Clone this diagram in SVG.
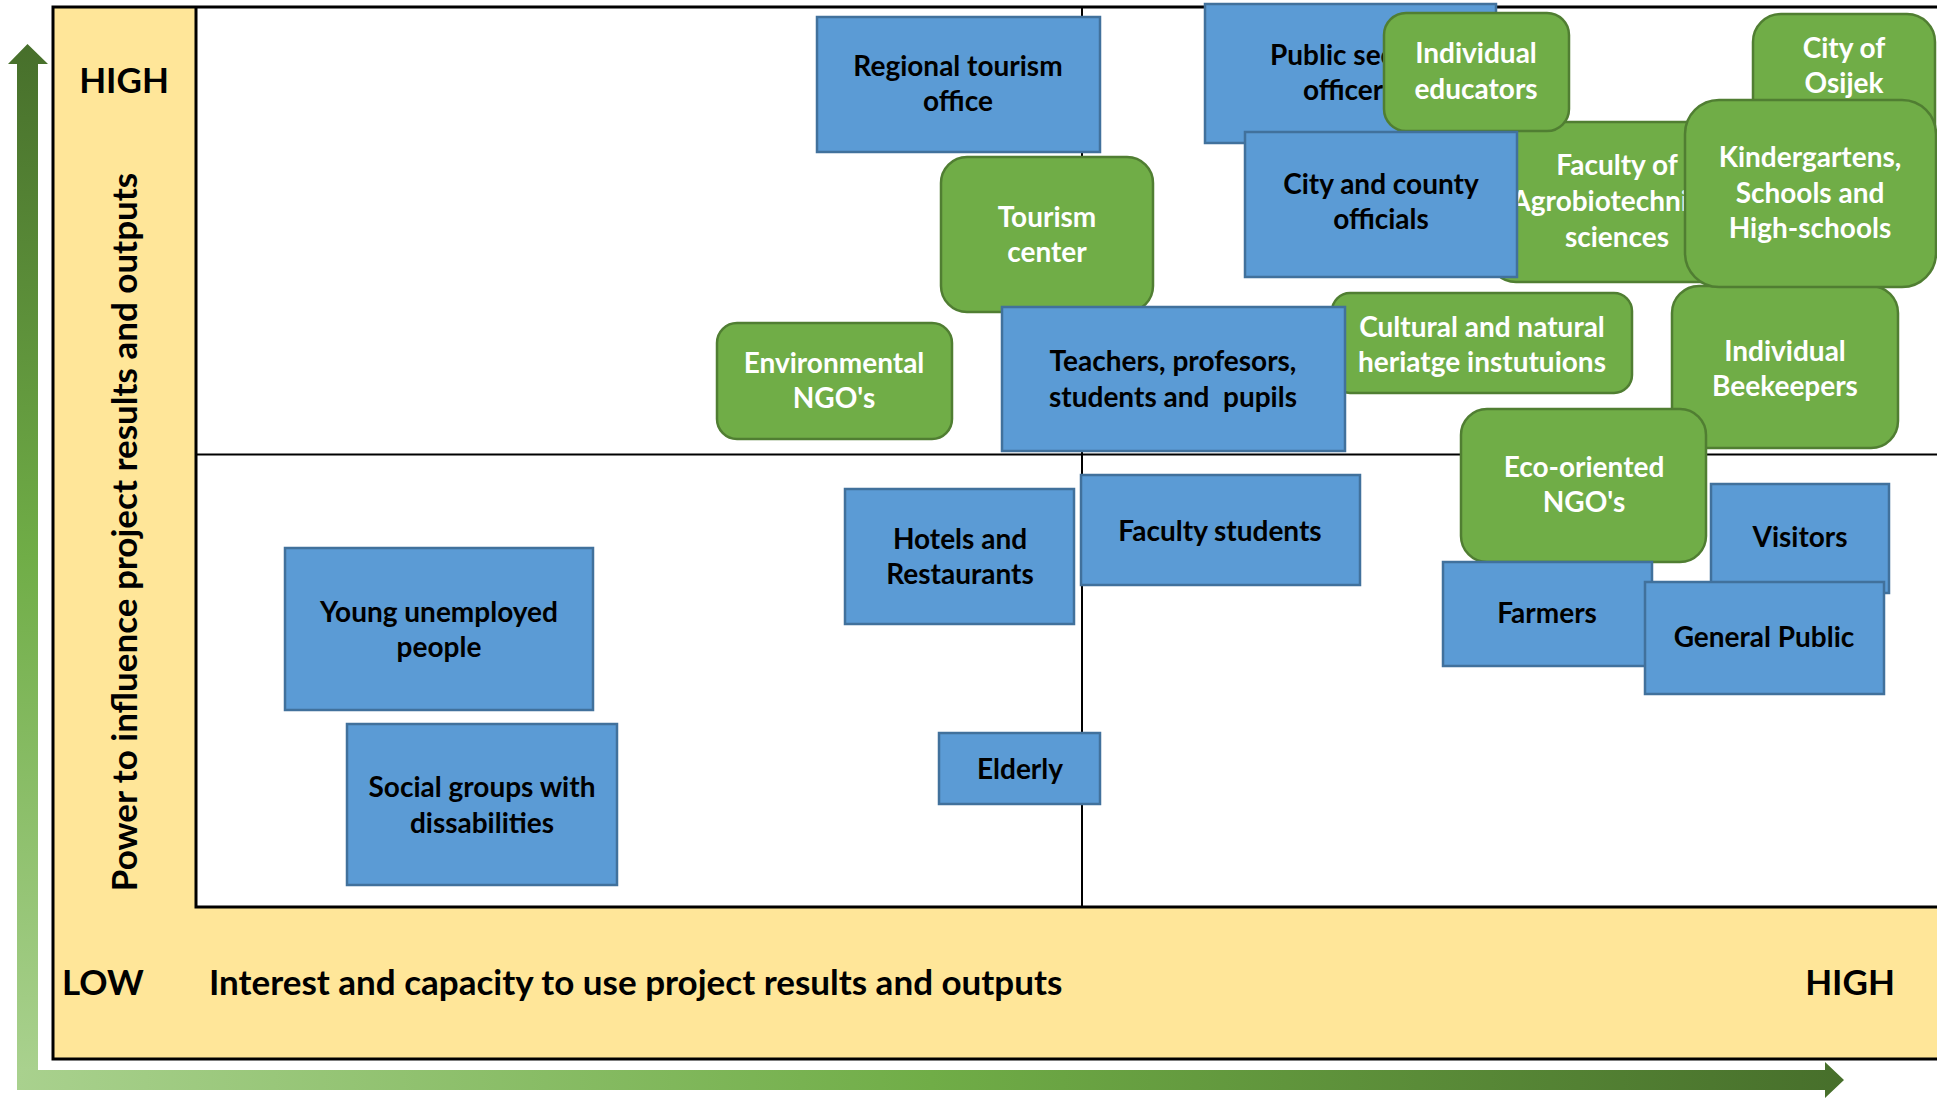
<svg xmlns="http://www.w3.org/2000/svg" width="1937" height="1098" viewBox="0 0 1937 1098">
<style>
text{font-family:Lato,"Open Sans","Liberation Sans",sans-serif;font-weight:700;font-size:28px;text-anchor:middle}
.blue rect{fill:#5b9bd5;stroke:#41719c;stroke-width:2.5}
.green rect{fill:#70ad47;stroke:#507e32;stroke-width:2.5}
.blue text{fill:#000}
.green text{fill:#fff}
.ax{font-size:35px;fill:#000}
.frame{stroke:#000;fill:none}
</style>
<defs>
<linearGradient id="gv" x1="0" y1="0" x2="0" y2="1">
<stop offset="0" stop-color="#476f2b"/>
<stop offset="0.5" stop-color="#70ad47"/>
<stop offset="1" stop-color="#a9d18e"/>
</linearGradient>
<linearGradient id="gh" x1="0" y1="0" x2="1" y2="0">
<stop offset="0" stop-color="#a9d18e"/>
<stop offset="0.5" stop-color="#70ad47"/>
<stop offset="1" stop-color="#476f2b"/>
</linearGradient>
<clipPath id="pubclip"><rect x="1205" y="4" width="178" height="139"/></clipPath>
<clipPath id="agroclip"><rect x="1517" y="122" width="168" height="160"/></clipPath>
</defs>
<rect width="1937" height="1098" fill="#fff"/>
<g id="background">
<rect x="53" y="7" width="1890" height="1052" fill="#ffe699"/>
<rect x="196" y="7" width="1745" height="900" fill="#fff"/>
<path class="frame" stroke-width="3" d="M1940,7H53V1059H1940"/>
<path class="frame" stroke-width="3" d="M196,7V907H1940"/>
<path class="frame" stroke-width="2" d="M196,454.5H1940M1082,7V907"/>
</g>
<g id="axes">
<path d="M17,1070V64H8L27.5,44L48,64H38V1070Z" fill="url(#gv)"/>
<path d="M17,1070H1825V1062L1844,1080L1825,1098V1090H17Z" fill="url(#gh)"/>
<text class="ax" x="124" y="93">HIGH</text>
<text class="ax" transform="translate(137,532) rotate(-90)">Power to influence project results and outputs</text>
<text class="ax" x="103" y="995">LOW</text>
<text class="ax" x="209" y="995" style="text-anchor:start">Interest and capacity to use project results and outputs</text>
<text class="ax" x="1850" y="995">HIGH</text>
</g>
<g id="nodes">
<g id="regional-tourism-office" class="blue"><rect x="817" y="17" width="283" height="135"/><text x="958" y="76">Regional tourism</text><text x="958" y="111">office</text></g>
<g id="tourism-center" class="green"><rect x="941" y="157" width="212" height="155" rx="26"/><text x="1047" y="227">Tourism</text><text x="1047" y="262">center</text></g>
<g id="environmental-ngos" class="green"><rect x="717" y="323" width="235" height="116" rx="20"/><text x="834" y="373">Environmental</text><text x="834" y="408">NGO's</text></g>
<g id="public-sector-officers" class="blue"><rect x="1205" y="4" width="291" height="139"/><g clip-path="url(#pubclip)"><text x="1270" y="65" style="text-anchor:start">Public sec</text><text x="1303" y="100" style="text-anchor:start">officer</text></g></g>
<g id="faculty-agrobiotechnical" class="green"><rect x="1489" y="122" width="256" height="160" rx="27"/><g clip-path="url(#agroclip)"><text x="1617" y="175">Faculty of</text><text x="1617" y="211">Agrobiotechnical</text><text x="1617" y="247">sciences</text></g></g>
<g id="individual-educators" class="green"><rect x="1384" y="13" width="185" height="118" rx="22"/><text x="1476" y="63">Individual</text><text x="1476" y="99">educators</text></g>
<g id="city-county-officials" class="blue"><rect x="1245" y="132" width="272" height="145"/><text x="1381" y="194">City and county</text><text x="1381" y="229">officials</text></g>
<g id="city-of-osijek" class="green"><rect x="1753" y="14" width="182" height="140" rx="28"/><text x="1844" y="58">City of</text><text x="1844" y="93">Osijek</text></g>
<g id="individual-beekeepers" class="green"><rect x="1672" y="286" width="226" height="162" rx="27"/><text x="1785" y="361">Individual</text><text x="1785" y="396">Beekeepers</text></g>
<g id="kindergartens-schools" class="green"><rect x="1685" y="100" width="251" height="187" rx="34"/><text x="1810" y="167">Kindergartens,</text><text x="1810" y="203">Schools and</text><text x="1810" y="238">High-schools</text></g>
<g id="cultural-natural-heritage" class="green"><rect x="1332" y="293" width="300" height="100" rx="18"/><text x="1482" y="337">Cultural and natural</text><text x="1482" y="372">heriatge instutuions</text></g>
<g id="teachers-professors" class="blue"><rect x="1002" y="307" width="343" height="144"/><text x="1173" y="371">Teachers, profesors,</text><text x="1173" y="407" xml:space="preserve">students and  pupils</text></g>
<g id="eco-oriented-ngos" class="green"><rect x="1461" y="409" width="245" height="153" rx="26"/><text x="1584" y="477">Eco-oriented</text><text x="1584" y="512">NGO's</text></g>
<g id="hotels-restaurants" class="blue"><rect x="845" y="489" width="229" height="135"/><text x="960" y="549">Hotels and</text><text x="960" y="584">Restaurants</text></g>
<g id="faculty-students" class="blue"><rect x="1081" y="475" width="279" height="110"/><text x="1220" y="541">Faculty students</text></g>
<g id="young-unemployed" class="blue"><rect x="285" y="548" width="308" height="162"/><text x="439" y="622">Young unemployed</text><text x="439" y="657">people</text></g>
<g id="social-groups" class="blue"><rect x="347" y="724" width="270" height="161"/><text x="482" y="797">Social groups with</text><text x="482" y="833">dissabilities</text></g>
<g id="elderly" class="blue"><rect x="939" y="733" width="161" height="71"/><text x="1020" y="779">Elderly</text></g>
<g id="farmers" class="blue"><rect x="1443" y="562" width="209" height="104"/><text x="1547" y="623">Farmers</text></g>
<g id="visitors" class="blue"><rect x="1711" y="484" width="178" height="109"/><text x="1800" y="547">Visitors</text></g>
<g id="general-public" class="blue"><rect x="1645" y="582" width="239" height="112"/><text x="1764" y="647">General Public</text></g>
</g>
</svg>
